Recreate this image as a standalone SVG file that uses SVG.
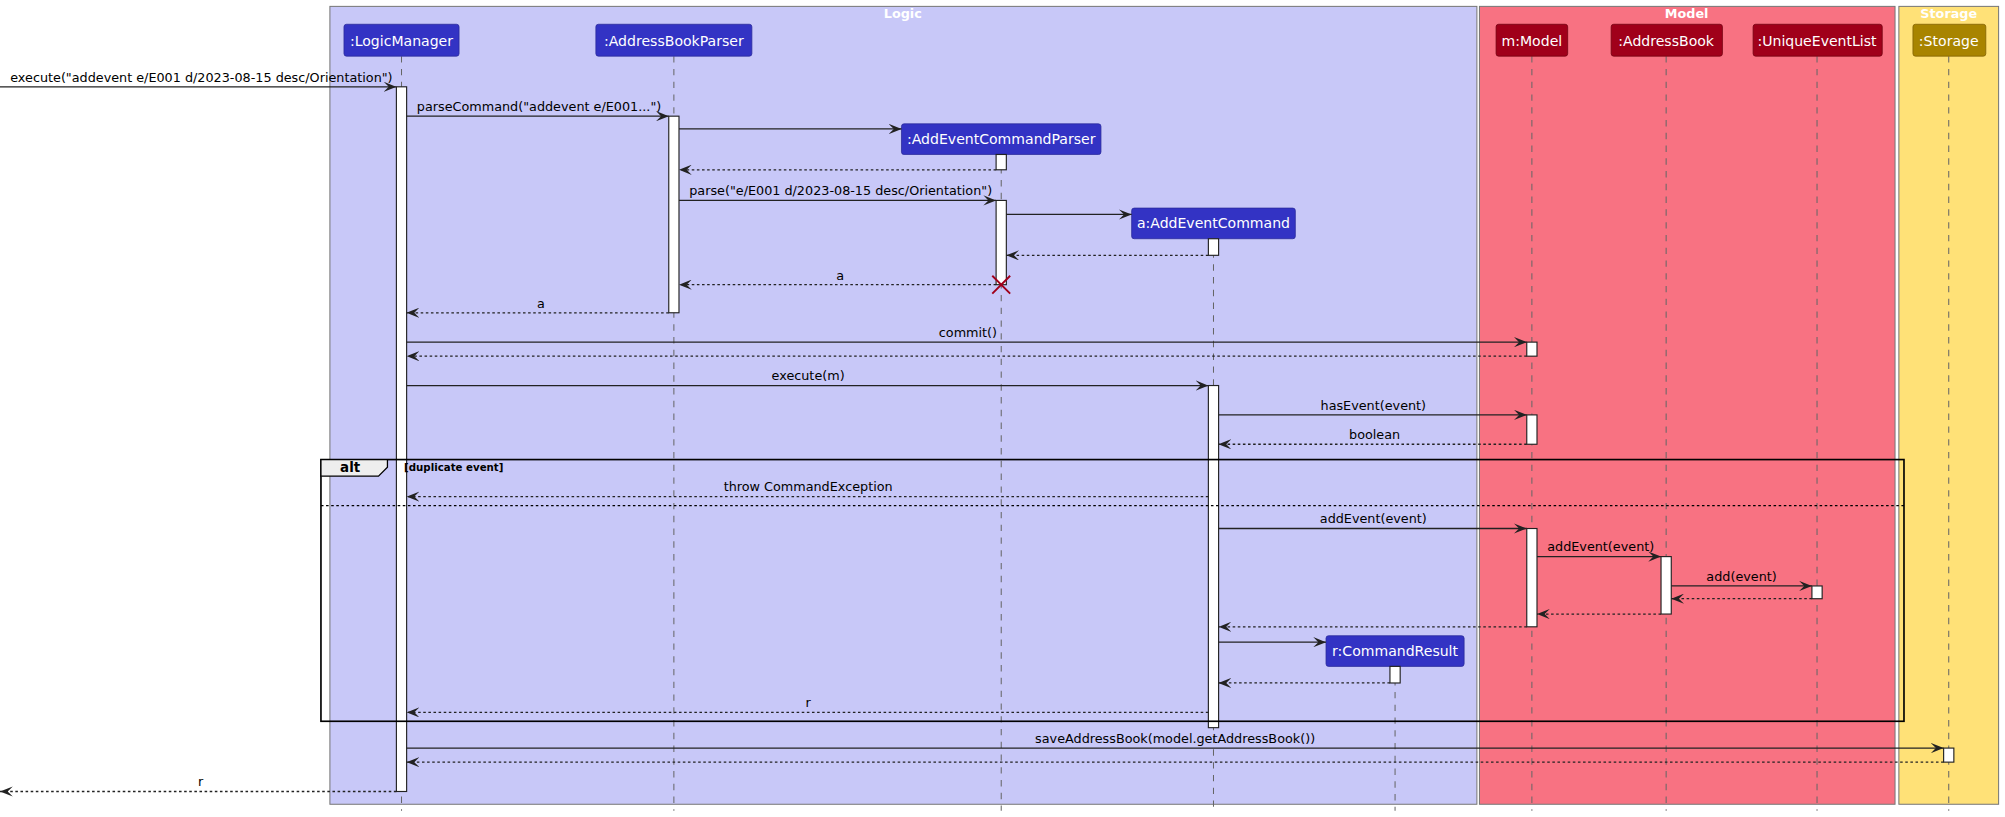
<svg xmlns="http://www.w3.org/2000/svg" width="2005" height="817" viewBox="0 0 2005 817">
<style>
text{font-family:"DejaVu Sans","Liberation Sans",sans-serif;font-size:10px;fill:#000}
.t{fill:#fff;font-weight:bold;font-size:10px}
.pn{fill:#fff;font-size:11px}
.ll{stroke:#666;stroke-width:0.8;stroke-dasharray:5,5}
.act{fill:#fff;stroke:#222;stroke-width:0.9}
.m{stroke:#222;stroke-width:1;fill:none;marker-end:url(#ah)}
.r{stroke:#222;stroke-width:1;fill:none;stroke-dasharray:2,2;marker-end:url(#ah)}
.pb{fill:#3333C4;stroke:#2a2a9a;stroke-width:0.6}
.pm{fill:#A0001A;stroke:#700010;stroke-width:0.6}
.ps{fill:#A88400;stroke:#806000;stroke-width:0.6}
</style>
<defs><marker id="ah" markerWidth="10" markerHeight="8" refX="10" refY="4" orient="auto" markerUnits="userSpaceOnUse"><path d="M0,0 L10,4 L0,8 L4,4 z" fill="#222"/></marker></defs>
<g transform="scale(1.2787,1.2766)">
<g id="boxes">
<rect x="258" y="5" width="897" height="625" fill="#C8C8F8" stroke="#777" stroke-width="0.8"/>
<text class="t" x="706" y="14" text-anchor="middle">Logic</text>
<rect x="1157" y="5" width="325" height="625" fill="#F87282" stroke="#777" stroke-width="0.8"/>
<text class="t" x="1319" y="14" text-anchor="middle">Model</text>
<rect x="1485" y="5" width="78" height="625" fill="#FFE177" stroke="#777" stroke-width="0.8"/>
<text class="t" x="1524" y="14" text-anchor="middle">Storage</text>
</g>
<g id="lifelines">
<line class="ll" x1="314" y1="44" x2="314" y2="635"/>
<line class="ll" x1="527" y1="44" x2="527" y2="635"/>
<line class="ll" x1="783" y1="121" x2="783" y2="635"/>
<line class="ll" x1="949" y1="187" x2="949" y2="635"/>
<line class="ll" x1="1091" y1="522" x2="1091" y2="635"/>
<line class="ll" x1="1198" y1="44" x2="1198" y2="635"/>
<line class="ll" x1="1303" y1="44" x2="1303" y2="635"/>
<line class="ll" x1="1421" y1="44" x2="1421" y2="635"/>
<line class="ll" x1="1524" y1="44" x2="1524" y2="635"/>
</g>
<g id="LogicManager"><rect class="pb" x="269" y="19" width="90" height="25" rx="2"/><text class="pn" x="314" y="36" text-anchor="middle">:LogicManager</text></g>
<g id="AddressBookParser"><rect class="pb" x="466" y="19" width="122" height="25" rx="2"/><text class="pn" x="527" y="36" text-anchor="middle">:AddressBookParser</text></g>
<g id="AddEventCommandParser"><rect class="pb" x="705" y="97" width="156" height="24" rx="2"/><text class="pn" x="783" y="113" text-anchor="middle">:AddEventCommandParser</text></g>
<g id="AddEventCommand"><rect class="pb" x="885" y="163" width="128" height="24" rx="2"/><text class="pn" x="949" y="179" text-anchor="middle">a:AddEventCommand</text></g>
<g id="CommandResult"><rect class="pb" x="1037" y="498" width="108" height="24" rx="2"/><text class="pn" x="1091" y="514" text-anchor="middle">r:CommandResult</text></g>
<g id="Model"><rect class="pm" x="1170" y="19" width="56" height="25" rx="2"/><text class="pn" x="1198" y="36" text-anchor="middle">m:Model</text></g>
<g id="AddressBook"><rect class="pm" x="1260" y="19" width="87" height="25" rx="2"/><text class="pn" x="1303" y="36" text-anchor="middle">:AddressBook</text></g>
<g id="UniqueEventList"><rect class="pm" x="1371" y="19" width="101" height="25" rx="2"/><text class="pn" x="1421" y="36" text-anchor="middle">:UniqueEventList</text></g>
<g id="Storage"><rect class="ps" x="1496" y="19" width="57" height="25" rx="2"/><text class="pn" x="1524" y="36" text-anchor="middle">:Storage</text></g>
<g id="activations">
<rect class="act" x="310" y="68" width="8" height="552"/>
<rect class="act" x="523" y="91" width="8" height="154"/>
<rect class="act" x="779" y="121" width="8" height="12"/>
<rect class="act" x="779" y="157" width="8" height="66"/>
<rect class="act" x="945" y="187" width="8" height="13"/>
<rect class="act" x="945" y="302" width="8" height="268"/>
<rect class="act" x="1087" y="522" width="8" height="13"/>
<rect class="act" x="1194" y="268" width="8" height="11"/>
<rect class="act" x="1194" y="325" width="8" height="23"/>
<rect class="act" x="1194" y="414" width="8" height="77"/>
<rect class="act" x="1299" y="436" width="8" height="45"/>
<rect class="act" x="1417" y="459" width="8" height="10"/>
<rect class="act" x="1520" y="586" width="8" height="11"/>
<path d="M776,216 L790,230 M790,216 L776,230" stroke="#A0001A" stroke-width="1.5"/>
</g>
<g id="alt">
<rect x="251" y="360" width="1238" height="205" fill="none" stroke="#000" stroke-width="1.3"/>
<path d="M251,360 H303 V366 L296,373 H251 Z" fill="#eee" stroke="#000" stroke-width="1"/>
<text x="266" y="370" style="font-weight:bold;font-size:10.5px">alt</text>
<text x="316" y="369" style="font-weight:bold;font-size:8px">[duplicate event]</text>
<line x1="251" y1="396" x2="1489" y2="396" stroke="#000" stroke-width="1" stroke-dasharray="2,2"/>
</g>
<g id="connectors">
<line class="m" x1="0" y1="68" x2="310" y2="68"/><text x="8" y="64">execute("addevent e/E001 d/2023-08-15 desc/Orientation")</text>
<line class="m" x1="318" y1="91" x2="523" y2="91"/><text x="326" y="87">parseCommand("addevent e/E001...")</text>
<line class="m" x1="531" y1="101" x2="705" y2="101"/>
<line class="r" x1="779" y1="133" x2="531" y2="133"/>
<line class="m" x1="531" y1="157" x2="779" y2="157"/><text x="539" y="153">parse("e/E001 d/2023-08-15 desc/Orientation")</text>
<line class="m" x1="787" y1="168" x2="885" y2="168"/>
<line class="r" x1="945" y1="200" x2="787" y2="200"/>
<line class="r" x1="779" y1="223" x2="531" y2="223"/><text x="657" y="219" text-anchor="middle">a</text>
<line class="r" x1="523" y1="245" x2="318" y2="245"/><text x="423" y="241" text-anchor="middle">a</text>
<line class="m" x1="318" y1="268" x2="1194" y2="268"/><text x="757" y="264" text-anchor="middle">commit()</text>
<line class="r" x1="1194" y1="279" x2="318" y2="279"/>
<line class="m" x1="318" y1="302" x2="945" y2="302"/><text x="632" y="298" text-anchor="middle">execute(m)</text>
<line class="m" x1="953" y1="325" x2="1194" y2="325"/><text x="1074" y="321" text-anchor="middle">hasEvent(event)</text>
<line class="r" x1="1194" y1="348" x2="953" y2="348"/><text x="1075" y="344" text-anchor="middle">boolean</text>
<line class="r" x1="945" y1="389" x2="318" y2="389"/><text x="632" y="385" text-anchor="middle">throw CommandException</text>
<line class="m" x1="953" y1="414" x2="1194" y2="414"/><text x="1074" y="410" text-anchor="middle">addEvent(event)</text>
<line class="m" x1="1202" y1="436" x2="1299" y2="436"/><text x="1210" y="432">addEvent(event)</text>
<line class="m" x1="1307" y1="459" x2="1417" y2="459"/><text x="1362" y="455" text-anchor="middle">add(event)</text>
<line class="r" x1="1417" y1="469" x2="1307" y2="469"/>
<line class="r" x1="1299" y1="481" x2="1202" y2="481"/>
<line class="r" x1="1194" y1="491" x2="953" y2="491"/>
<line class="m" x1="953" y1="503" x2="1037" y2="503"/>
<line class="r" x1="1087" y1="535" x2="953" y2="535"/>
<line class="r" x1="945" y1="558" x2="318" y2="558"/><text x="632" y="554" text-anchor="middle">r</text>
<line class="m" x1="318" y1="586" x2="1520" y2="586"/><text x="919" y="582" text-anchor="middle">saveAddressBook(model.getAddressBook())</text>
<line class="r" x1="1520" y1="597" x2="318" y2="597"/>
<line class="r" x1="310" y1="620" x2="0" y2="620"/><text x="157" y="616" text-anchor="middle">r</text>
</g>
</g>
</svg>
